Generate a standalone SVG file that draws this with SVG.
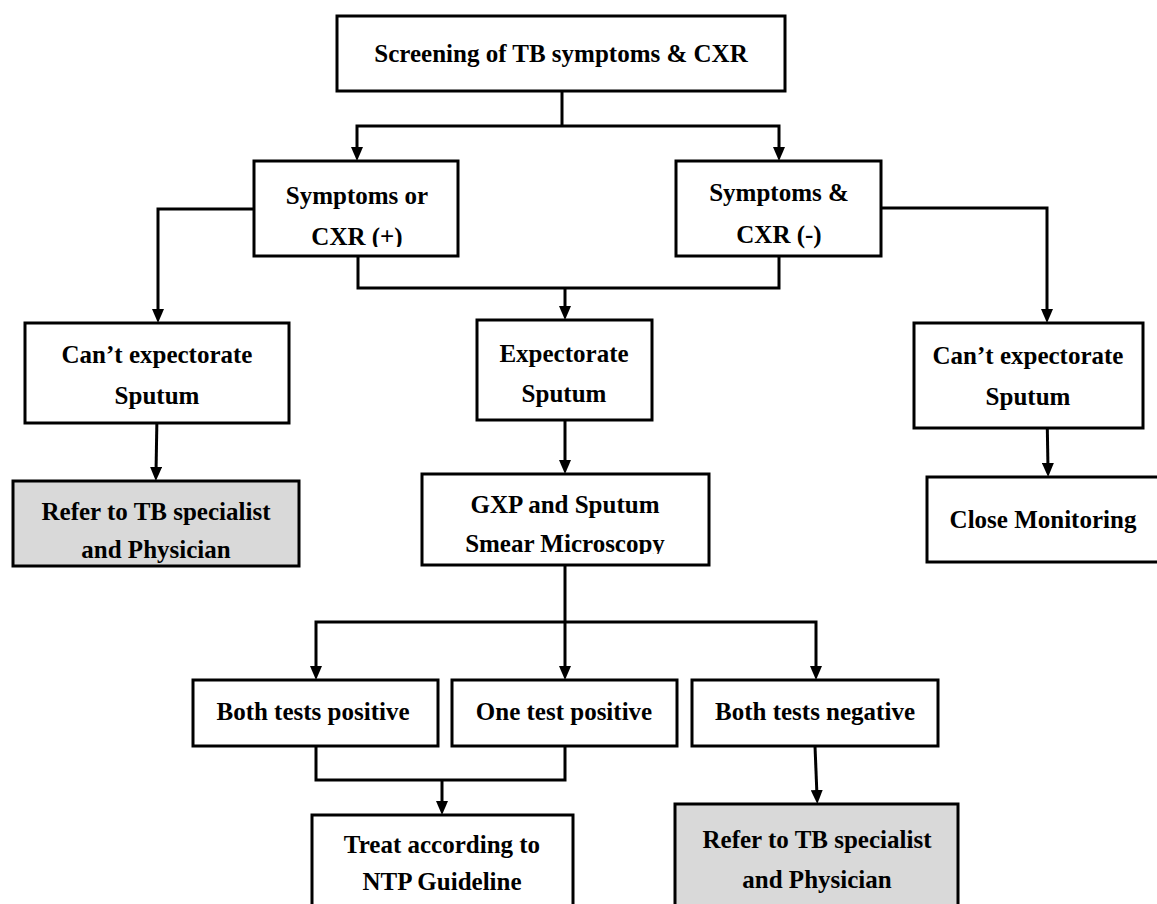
<svg xmlns="http://www.w3.org/2000/svg" width="1157" height="904" viewBox="0 0 1157 904">
<style>
.box{fill:#ffffff;stroke:#000;stroke-width:3}
.gray{fill:#d9d9d9;stroke:#000;stroke-width:3}
.t{font-family:"Liberation Serif","Times New Roman",serif;font-weight:bold;font-size:25px;fill:#000;text-anchor:middle}
.c{fill:none;stroke:#000;stroke-width:3}
.a{fill:none;stroke:#000;stroke-width:3;marker-end:url(#ah)}
</style>
<defs>
<marker id="ah" markerUnits="userSpaceOnUse" markerWidth="14" markerHeight="12" refX="6" refY="6" orient="auto">
<path d="M0,0 L14,6 L0,12 Z" fill="#000"/>
</marker>
<clipPath id="clipA"><rect x="254" y="161" width="204" height="86"/></clipPath>
<clipPath id="clipG"><rect x="422" y="474" width="287" height="80"/></clipPath>
</defs>
<rect width="1157" height="904" fill="#fff"/>
<g id="connectors">
<path class="c" d="M562,91 V126"/>
<path class="a" d="M562,126 H357 V153"/>
<path class="a" d="M562,126 H779 V153"/>
<path class="c" d="M358,256 V288 H779 V256"/>
<path class="a" d="M565,288 V312"/>
<path class="a" d="M254,209 H158 V315"/>
<path class="a" d="M881,208 H1047 V315"/>
<path class="a" d="M157,415 L156,473"/>
<path class="a" d="M565,420 V466"/>
<path class="a" d="M1047,410 L1048,469"/>
<path class="c" d="M565,565 V622"/>
<path class="a" d="M565,622 H316 V672"/>
<path class="a" d="M565,622 V672"/>
<path class="a" d="M565,622 H816 V672"/>
<path class="c" d="M316,746 V780 H565 V746"/>
<path class="a" d="M442,780 V807"/>
<path class="a" d="M815,746 L817,796"/>
</g>
<g id="n-screening">
<rect class="box" x="337" y="16" width="448" height="75"/>
<text class="t" x="561" y="62">Screening of TB symptoms &amp; CXR</text>
</g>
<g id="n-symptoms-pos">
<rect class="box" x="254" y="161" width="204" height="95"/>
<text class="t" x="357" y="204">Symptoms or</text>
<text class="t" x="357" y="245" clip-path="url(#clipA)">CXR (+)</text>
</g>
<g id="n-symptoms-neg">
<rect class="box" x="676" y="161" width="205" height="95"/>
<text class="t" x="779" y="201">Symptoms &amp;</text>
<text class="t" x="779" y="243">CXR (-)</text>
</g>
<g id="n-cant-left">
<rect class="box" x="25" y="323" width="264" height="100"/>
<text class="t" x="157" y="363">Can’t expectorate</text>
<text class="t" x="157" y="404">Sputum</text>
</g>
<g id="n-expectorate">
<rect class="box" x="477" y="320" width="175" height="100"/>
<text class="t" x="564" y="362">Expectorate</text>
<text class="t" x="564" y="402">Sputum</text>
</g>
<g id="n-cant-right">
<rect class="box" x="914" y="323" width="229" height="105"/>
<text class="t" x="1028" y="364">Can’t expectorate</text>
<text class="t" x="1028" y="405">Sputum</text>
</g>
<g id="n-refer-left">
<rect class="gray" x="13" y="481" width="286" height="85"/>
<text class="t" x="156" y="520">Refer to TB specialist</text>
<text class="t" x="156" y="558">and Physician</text>
</g>
<g id="n-gxp">
<rect class="box" x="422" y="474" width="287" height="91"/>
<text class="t" x="565" y="513">GXP and Sputum</text>
<text class="t" x="565" y="552" clip-path="url(#clipG)">Smear Microscopy</text>
</g>
<g id="n-close">
<rect class="box" x="927" y="477" width="240" height="85"/>
<text class="t" x="1043" y="528">Close Monitoring</text>
</g>
<g id="n-both-pos">
<rect class="box" x="193" y="680" width="245" height="66"/>
<text class="t" x="313" y="720">Both tests positive</text>
</g>
<g id="n-one-pos">
<rect class="box" x="452" y="680" width="225" height="66"/>
<text class="t" x="564" y="720">One test positive</text>
</g>
<g id="n-both-neg">
<rect class="box" x="692" y="680" width="246" height="66"/>
<text class="t" x="815" y="720">Both tests negative</text>
</g>
<g id="n-treat">
<rect class="box" x="312" y="815" width="261" height="100"/>
<text class="t" x="442" y="853">Treat according to</text>
<text class="t" x="442" y="890">NTP Guideline</text>
</g>
<g id="n-refer-right">
<rect class="gray" x="675" y="804" width="283" height="110"/>
<text class="t" x="817" y="848">Refer to TB specialist</text>
<text class="t" x="817" y="888">and Physician</text>
</g>
</svg>
